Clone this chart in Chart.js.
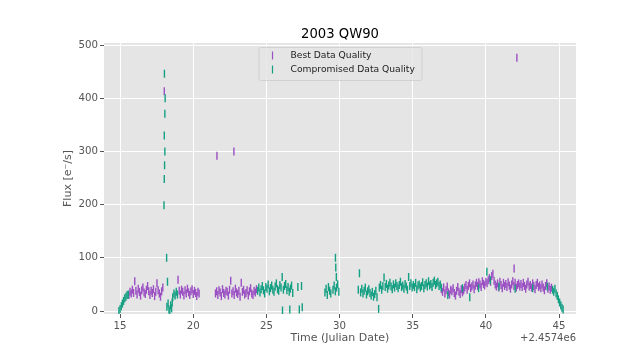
<!DOCTYPE html>
<html><head><meta charset="utf-8">
<script src="https://cdn.jsdelivr.net/npm/chart.js@4.4.0/dist/chart.umd.min.js"></script>
<style>html,body{margin:0;padding:0;background:#fff;}</style>
</head><body>
<canvas id="c" width="640" height="360"></canvas>
<script>
const chartTitle = '2003 QW90';
const xAxisTitle = 'Time (Julian Date)';
const xOffsetText = '+2.4574e6';
const yAxisTitle = 'Flux [e\u207B/s]';
const seriesNames = ['Best Data Quality', 'Compromised Data Quality'];
const seriesColors = ['#9a4fc2', '#139f82'];
const xTicks = [15, 20, 25, 30, 35, 40, 45];
const yTicks = [0, 100, 200, 300, 400, 500];
const cadence = 0.08; // days between samples within a run

// Best data quality: runs of samples (start time + flux values)
const bestRunStarts = [15.60, 18.96, 21.52, 36.96];
const bestRun1 = [30,36,33,40,34,56,38,31,42,36, 29,39,44,35,32,40,47,37,30,38, 34,41,28,36,52,39,33,27,37,44];
const bestRun2 = [59,38,31,40,36,29,39,33,42,35, 30,37,41,32,38,34,28,36,33];
const bestRun3 = [33,37,30,39,35,28,41,34,31,38, 36,29,40,57,33,37,30,42,35,32, 38,27,53,36,40,31,34,39,29,37, 43,33,30,38,35,41];
const bestRun4 = [41,36,44,33,39,46,35,31,40,37, 43,34,29,38,45,36,32,41,35,39,
                  44,49,40,47,52,43,46,50,41,48, 53,
                  47,54,50,45,56,51,48,55,52,58, 62,55,66,70,57,50,
                  46,52,44,55,49,43,53,47,51,45, 54,48,42,50,56,47,53,44,49,52, 46,
                  51,45,53,47,42,50,55,46,49,44, 52,47,41,49,53,45,
                  48,43,50,44,39,47,52,42,46,40, 44];
const bestExtraT = [18.02, 21.62, 22.78, 41.93, 42.12];
const bestExtraF = [413, 292, 300, 80, 476];

// Compromised data quality
const compRunStarts = [14.92, 18.60, 24.40, 29.00, 29.55, 31.28, 32.72, 44.56];
const compRun1 = [0,4,9,14,19,24,27,30,31];
const compRun2 = [26,33,29,36,31];
const compRun3 = [38,44,35,41,47,39,33,45,42,50, 37,43,48,40,36,46,52,41,38,49, 44,64,40,47,51,39,45,36,42,48, 34];
const compRun4 = [35,42,30,45,38,33];
const compRun5 = [40,48,37,44,50,36];
const compRun6 = [40,71,35,42,33,38,44,31,37,41, 34,29,36,27,32,38,26];
const compRun7 = [44,49,40,47,63,45,51,42,48,53, 46,41,50,44,52,47,43,49,55,45,
                  48,42,51,46,40,64,47,52,44,49, 45,53,41,48,50,44,47,54,43,49,
                  52,46,56,48,51,45,53,57,49,52, 55,47,50,44];
const compRun8 = [40,36,42,33,28,22,16,11,6,3];
const compExtraT = [18.00,18.02,18.02,18.04,18.06,18.06,18.08,18.03,18.18,18.24,
                    18.20,18.28,18.34,18.40,18.46,18.52,18.56,
                    26.10,26.60,27.15,27.25,27.40,27.45,
                    29.72,29.74,29.78, 32.67,
                    37.40,38.40,38.90,39.50,40.07,40.30,40.90,42.00,43.20,44.20];
const compExtraF = [199,248,330,274,300,371,400,446,100,55,
                    8,14,3,-1,11,5,16,
                    1,3,45,3,47,7,
                    100,82,64, 4,
                    30,43,26,43,74,58,46,42,43,46];

function buildPoints(starts, runs, extraT, extraF) {
  const pts = [];
  runs.forEach((run, r) => run.forEach((f, i) => pts.push({x: starts[r] + i * cadence, y: f})));
  extraT.forEach((t, i) => pts.push({x: t, y: extraF[i]}));
  return pts;
}
const bestPoints = buildPoints(bestRunStarts, [bestRun1, bestRun2, bestRun3, bestRun4], bestExtraT, bestExtraF);
const compPoints = buildPoints(compRunStarts, [compRun1, compRun2, compRun3, compRun4, compRun5, compRun6, compRun7, compRun8], compExtraT, compExtraF);

const FONT = '"DejaVu Sans", sans-serif';

const bgPlugin = {
  id: 'bg',
  beforeDraw(chart) {
    const {ctx, chartArea: a} = chart;
    ctx.save();
    ctx.fillStyle = '#E5E5E5';
    ctx.fillRect(a.left, a.top, a.right - a.left, a.bottom - a.top);
    ctx.restore();
  }
};

const overlayPlugin = {
  id: 'overlay',
  afterDatasetsDraw(chart) {
    const {ctx, chartArea: a} = chart;
    ctx.save();
    // title
    ctx.fillStyle = '#000';
    ctx.font = '13.2px ' + FONT;
    ctx.textAlign = 'center';
    ctx.textBaseline = 'middle';
    ctx.fillText(chartTitle, (a.left + a.right) / 2, a.top - 8);
    // legend
    const w = 163, h = 33;
    const x0 = (a.left + a.right) / 2 - w / 2, y0 = a.top + 4;
    ctx.beginPath();
    ctx.roundRect(x0 + 0.5, y0 + 0.5, w, h, 2);
    ctx.fillStyle = 'rgba(229,229,229,0.8)';
    ctx.fill();
    ctx.strokeStyle = 'rgba(204,204,204,0.8)';
    ctx.lineWidth = 1;
    ctx.stroke();
    ctx.font = '9.2px ' + FONT;
    ctx.textAlign = 'left';
    chart.data.datasets.forEach((ds, i) => {
      const cy = y0 + 8.5 + i * 14;
      ctx.beginPath();
      ctx.strokeStyle = ds.borderColor;
      ctx.lineWidth = 1.2;
      ctx.moveTo(x0 + 14, cy - 4);
      ctx.lineTo(x0 + 14, cy + 4);
      ctx.stroke();
      ctx.fillStyle = '#222';
      ctx.fillText(ds.label, x0 + 32, cy + 0.5);
    });
    // offset text
    ctx.fillStyle = '#555';
    ctx.font = '10px ' + FONT;
    ctx.textAlign = 'right';
    ctx.fillText(xOffsetText, a.right, a.bottom + 24);
    ctx.restore();
  }
};

new Chart(document.getElementById('c'), {
  type: 'scatter',
  data: {
    datasets: [
      {label: seriesNames[0], data: bestPoints, borderColor: seriesColors[0], backgroundColor: seriesColors[0],
       pointStyle: 'line', rotation: 90, pointRadius: 4, pointBorderWidth: 1.4, order: 2},
      {label: seriesNames[1], data: compPoints, borderColor: seriesColors[1], backgroundColor: seriesColors[1],
       pointStyle: 'line', rotation: 90, pointRadius: 4, pointBorderWidth: 1.4, order: 1}
    ]
  },
  options: {
    responsive: false,
    animation: false,
    devicePixelRatio: 1,
    events: [],
    layout: {padding: {left: 0, right: 64, top: 43, bottom: 0}},
    plugins: {
      legend: {display: false},
      tooltip: {enabled: false},
      title: {display: false}
    },
    scales: {
      x: {
        type: 'linear', min: 13.9, max: 46.16,
        afterBuildTicks: s => { s.ticks = xTicks.map(v => ({value: v})); },
        afterFit: s => { s.height = 46; },
        ticks: {color: '#555', font: {family: FONT, size: 10.2}, padding: 2, maxRotation: 0},
        grid: {color: '#ffffff', lineWidth: 1, tickColor: '#555', tickLength: 4},
        border: {display: false},
        title: {display: true, text: xAxisTitle, color: '#555', font: {family: FONT, size: 11}, padding: {top: 0, bottom: 15}}
      },
      y: {
        type: 'linear', min: -5.6, max: 503.8,
        afterBuildTicks: s => { s.ticks = yTicks.map(v => ({value: v})); },
        afterFit: s => { s.width = 104; },
        ticks: {color: '#555', font: {family: FONT, size: 10.2}, padding: 2},
        grid: {color: '#ffffff', lineWidth: 1, tickColor: '#555', tickLength: 4},
        border: {display: false},
        title: {display: true, text: yAxisTitle, color: '#555', font: {family: FONT, size: 11}, padding: {top: 62, bottom: 0}}
      }
    }
  },
  plugins: [bgPlugin, overlayPlugin]
});
</script>
</body></html>
